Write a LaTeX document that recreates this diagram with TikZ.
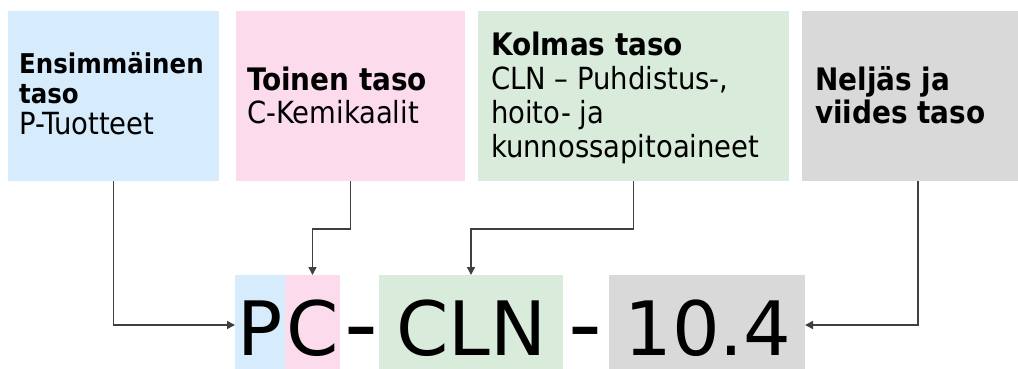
\documentclass[tikz,border=0pt]{standalone}
\usepackage{fontspec}
\setmainfont{DejaVu Sans}
\newfontfamily\condfont{DejaVu Sans Condensed}
\usetikzlibrary{arrows.meta}
\definecolor{cblue}{RGB}{214,236,252}
\definecolor{cpink}{RGB}{251,219,236}
\definecolor{cgreen}{RGB}{217,235,219}
\definecolor{cgray}{RGB}{217,217,217}
\definecolor{linec}{RGB}{64,64,64}
\begin{document}
\begin{tikzpicture}[x=1pt,y=-1pt,
  box/.style={draw=none,inner sep=0pt,outer sep=0pt,anchor=north west},
  lbl/.style={anchor=base west,inner sep=0pt,font=\condfont\fontsize{30.5}{33}\selectfont},
  lblb/.style={lbl,font=\condfont\fontsize{31}{33}\selectfont\bfseries},
  lblbs/.style={lbl,font=\condfont\fontsize{27.2}{30}\selectfont\bfseries},
  big/.style={anchor=base,inner sep=0pt,font=\fontsize{75}{75}\selectfont},
  conn/.style={draw=linec,line width=1.5pt,-{Triangle[length=8pt,width=8pt]}}
]
\useasboundingbox (0,0) rectangle (1018,369);
% top boxes
\node[box,fill=cblue,minimum width=211pt,minimum height=170pt] (b1) at (8,11) {};
\node[box,fill=cpink,minimum width=229pt,minimum height=170pt] (b2) at (236,11) {};
\node[box,fill=cgreen,minimum width=311pt,minimum height=170pt] (b3) at (478,11) {};
\node[box,fill=cgray,minimum width=232pt,minimum height=170pt] (b4) at (802,11) {};
% bottom boxes
\node[box,fill=cblue,minimum width=50pt,minimum height=100pt] (p) at (235,275) {};
\node[box,fill=cpink,minimum width=55pt,minimum height=100pt] (c) at (285,275) {};
\node[box,fill=cgreen,minimum width=184pt,minimum height=100pt] (cln) at (379,275) {};
\node[box,fill=cgray,minimum width=196pt,minimum height=100pt] (num) at (609,275) {};
% box texts
\node[lblbs] (b1t1) at (19,74) {Ensimmäinen};
\node[lblbs] (b1t2) at (19,103) {taso};
\node[lbl] (b1t3) at (19,134) {P-Tuotteet};
\node[lblb] (b2t1) at (247,91) {Toinen taso};
\node[lbl] (b2t2) at (247,124) {C-Kemikaalit};
\node[lblb] (b3t1) at (491,56) {Kolmas taso};
\node[lbl] (b3t2) at (491,90) {CLN – Puhdistus-,};
\node[lbl] (b3t3) at (491,124) {hoito- ja};
\node[lbl] (b3t4) at (491,157) {kunnossapitoaineet};
\node[lblb] (b4t1) at (815,91) {Neljäs ja};
\node[lblb] (b4t2) at (815,124) {viides taso};
% big code
\node[big] (tp) at (260.5,355) {P};
\node[big] (tc) at (313,355) {C};
\node[big] (td1) at (361,355) {\scalebox{1.25}[1.2]{-}};
\node[big] (tcln) at (471.5,355) {CLN};
\node[big] (td2) at (585,355) {\scalebox{1.25}[1.2]{-}};
\node[big] (tnum) at (708,355) {10.4};
% connectors
\draw[conn] (b1.south) |- (p.west);
\draw[conn] (b2.south) -- ++(0,48) -| (c.north);
\draw[conn] (b3.south) -- ++(0,48) -| (cln.north);
\draw[conn] (b4.south) |- (num.east);
\end{tikzpicture}
\end{document}
